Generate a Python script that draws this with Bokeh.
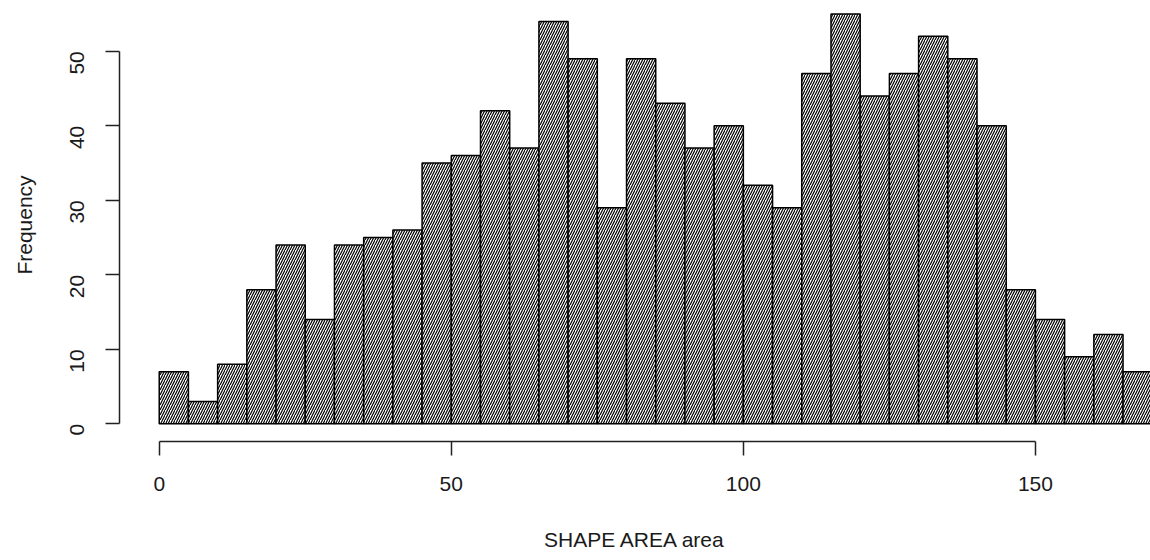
from math import pi
from bokeh.plotting import figure
from bokeh.models import FixedTicker, Range1d
from bokeh.embed import file_html
from bokeh.resources import INLINE

# ---- data ----
bin_left = [0, 5, 10, 15, 20, 25, 30, 35, 40, 45, 50, 55, 60, 65, 70, 75, 80,
            85, 90, 95, 100, 105, 110, 115, 120, 125, 130, 135, 140, 145, 150,
            155, 160, 165]
bin_width = 5
counts = [7, 3, 8, 18, 24, 14, 24, 25, 26, 35, 36, 42, 37, 54, 49, 29, 49,
          43, 37, 40, 32, 29, 47, 55, 44, 47, 52, 49, 40, 18, 14, 9, 12, 7]
x_ticks = [0, 50, 100, 150]
y_ticks = [0, 10, 20, 30, 40, 50]
x_title = "SHAPE AREA area"
y_title = "Frequency"

bin_right = [b + bin_width for b in bin_left]
FONT = "Liberation Sans"
TXT = "#1a1a1a"
FS = "21px"

p = figure(width=1150, height=556, output_backend="svg", toolbar_location=None,
           x_range=Range1d(-6.8, 169.7), y_range=Range1d(-2.37, 55.73),
           min_border_left=119, min_border_right=0, min_border_top=8,
           min_border_bottom=115)
p.outline_line_color = None
p.xgrid.visible = False
p.ygrid.visible = False
p.background_fill_color = "white"
p.border_fill_color = "white"

p.quad(left=bin_left, right=bin_right, bottom=0, top=counts,
       fill_color="white", line_color="black", line_width=1.5,
       hatch_pattern="/", hatch_color="black", hatch_scale=5, hatch_weight=1.2)

for ax, ticks, bnds in ((p.xaxis[0], x_ticks, (0, 150)), (p.yaxis[0], y_ticks, (0, 50))):
    ax.ticker = FixedTicker(ticks=ticks)
    ax.bounds = bnds
    ax.minor_tick_line_color = None
    ax.major_tick_in = 0
    ax.major_tick_out = 14
    ax.axis_line_width = 1.5
    ax.major_tick_line_width = 1.5
    ax.axis_line_color = "#222222"
    ax.major_tick_line_color = "#222222"
    ax.major_label_text_font = FONT
    ax.major_label_text_font_size = FS
    ax.major_label_text_color = TXT
    ax.axis_label_text_font = FONT
    ax.axis_label_text_font_size = FS
    ax.axis_label_text_font_style = "normal"
    ax.axis_label_text_color = TXT

p.xaxis[0].axis_label = x_title
p.yaxis[0].axis_label = y_title
p.xaxis[0].major_label_standoff = 21
p.xaxis[0].axis_label_standoff = 34
p.yaxis[0].major_label_standoff = 28
p.yaxis[0].axis_label_standoff = 25
p.yaxis[0].major_label_orientation = pi / 2

open("out.html", "w").write(file_html(p, INLINE))
